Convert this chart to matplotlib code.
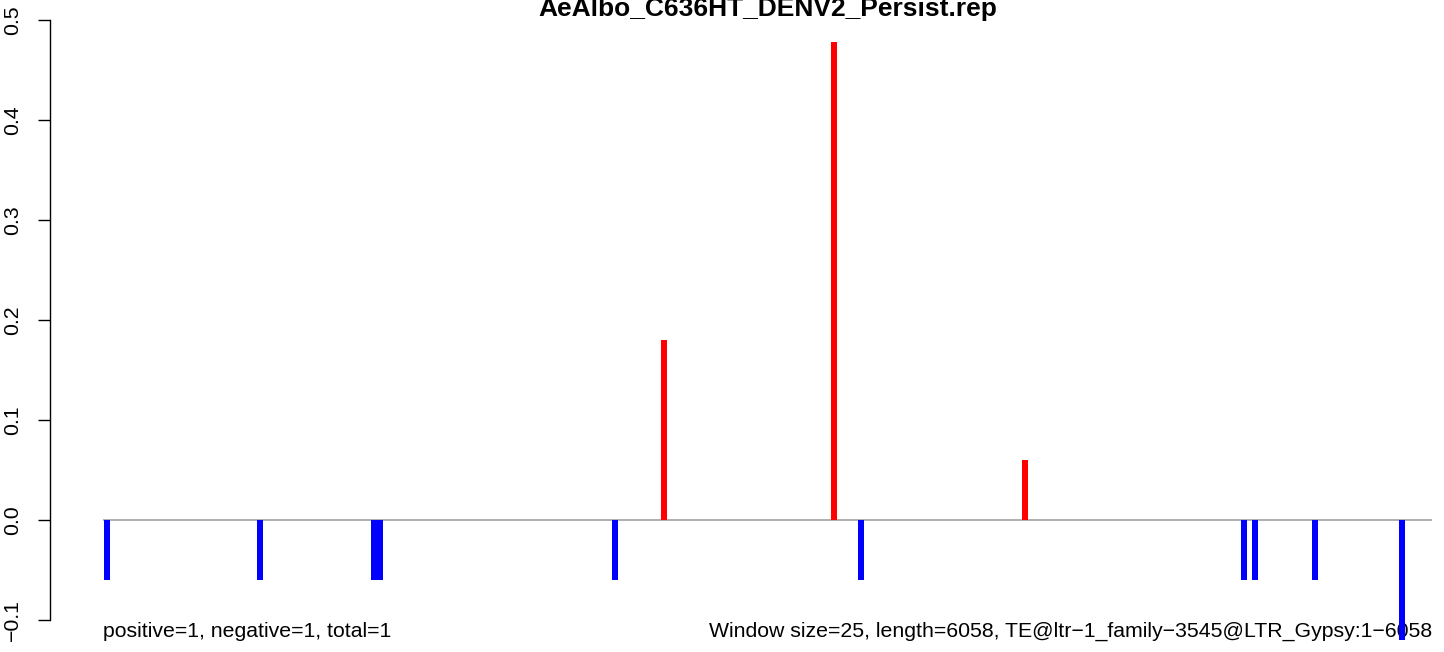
import matplotlib
matplotlib.use("Agg")
import matplotlib.pyplot as plt

# ---- data ----
title = "AeAlbo_C636HT_DENV2_Persist.rep"
seq_length = 6058
window_size = 25
positions = [19, 716, 1236, 1263, 2334, 2557, 3332, 3455, 4203, 5201, 5251, 5525, 5921]
values = [-0.06, -0.06, -0.06, -0.06, -0.06, 0.18, 0.478, -0.06, 0.06, -0.06, -0.06, -0.06, -0.12]
yticks = [-0.1, 0.0, 0.1, 0.2, 0.3, 0.4, 0.5]
ytick_labels = ["\u22120.1", "0.0", "0.1", "0.2", "0.3", "0.4", "0.5"]
left_note = "positive=1, negative=1, total=1"
right_note = ("Window size=25, length=6058, "
              "TE@ltr\u22121_family\u22123545@LTR_Gypsy:1\u22126058")

plt.rcParams['font.family'] = ['Liberation Sans', 'DejaVu Sans']

W, H = 1444, 652
fig = plt.figure(figsize=(W / 100, H / 100), dpi=100)
# plot region (R-like, extends past the right edge of the device)
left_px, right_px = 50, 1485
bottom_px, top_px = 8, 656
ax = fig.add_axes([left_px / W, bottom_px / H, (right_px - left_px) / W, (top_px - bottom_px) / H])
ax.patch.set_alpha(0)

ext_x = 0.04 * (seq_length - 1)
ax.set_xlim(1 - ext_x, seq_length + ext_x)
ax.set_ylim(-0.124, 0.524)

colors = ["#FF0000" if v > 0 else "#0000FF" for v in values]
ax.plot([1, seq_length], [0, 0], color="#A9A9A9", lw=1.3, zorder=1, solid_capstyle="butt")
ax.bar(positions, values, width=window_size + 1, color=colors, linewidth=0, zorder=3)

for s in ["top", "right", "bottom"]:
    ax.spines[s].set_visible(False)
ax.spines["left"].set_bounds(-0.1, 0.5)
ax.spines["left"].set_linewidth(1.0)
ax.set_xticks([])
ax.set_yticks(yticks)
ax.set_yticklabels(ytick_labels, rotation=90, va="center", ha="right", fontsize=15.3)
ax.tick_params(axis="y", length=8.6, width=1.0, pad=11.5)

ax.text(1, -0.117, left_note, ha="left", va="baseline", fontsize=15.3, zorder=2)
ax.text(seq_length, -0.117, right_note, ha="right", va="baseline", fontsize=15.3, zorder=2)

fig.text(768 / W, 1 - 16 / H, title, ha="center", va="baseline", fontsize=19, fontweight="bold")

fig.savefig("out.png", dpi=100)
